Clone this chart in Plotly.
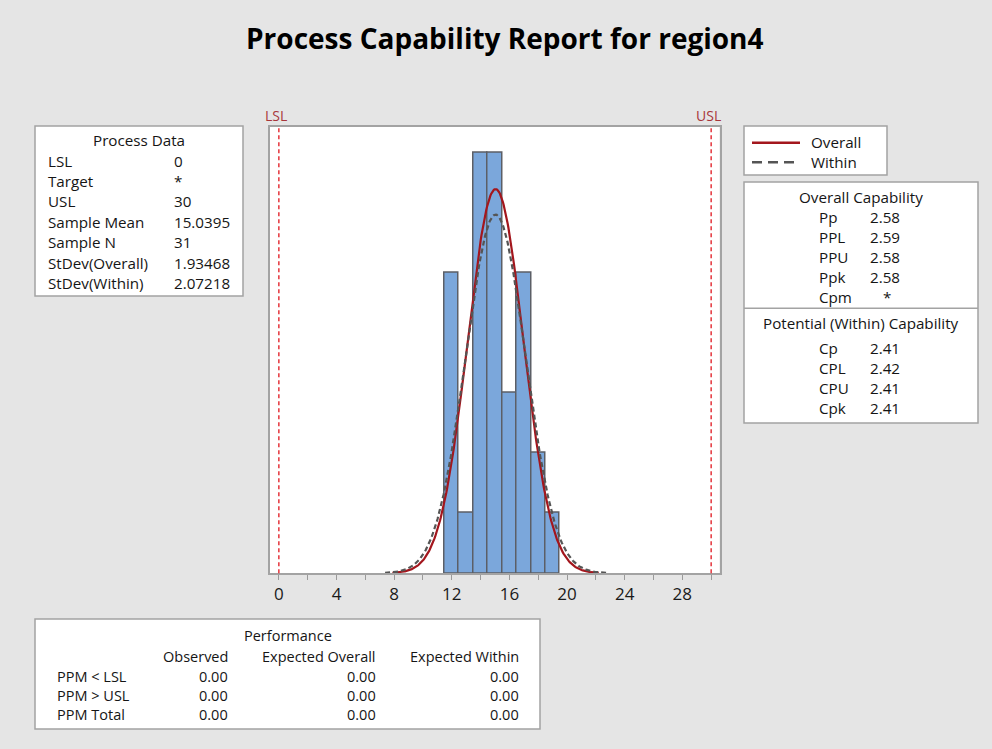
import numpy as np
import plotly.graph_objects as go

# ---- data ----
lsl = 0
usl = 30
sample_mean = 15.0395
sample_n = 31
sd_overall = 1.93468
sd_within = 2.07218
bin_width = 1.0

bin_centers = [12, 13, 14, 15, 16, 17, 18, 19]
bin_counts = [5, 1, 7, 7, 3, 5, 2, 1]

tick_values = list(range(0, 32, 2))
tick_labels = [str(v) if v % 4 == 0 and v <= 28 else "" for v in tick_values]

process_labels = ["LSL", "Target", "USL", "Sample Mean", "Sample N", "StDev(Overall)", "StDev(Within)"]
process_values = ["0", "*", "30", "15.0395", "31", "1.93468", "2.07218"]

overall_labels = ["Pp", "PPL", "PPU", "Ppk", "Cpm"]
overall_values = ["2.58", "2.59", "2.58", "2.58", "*"]

within_labels = ["Cp", "CPL", "CPU", "Cpk"]
within_values = ["2.41", "2.42", "2.41", "2.41"]

perf_columns = ["Observed", "Expected Overall", "Expected Within"]
perf_rows = ["PPM < LSL", "PPM > USL", "PPM Total"]
perf_values = [["0.00", "0.00", "0.00"],
               ["0.00", "0.00", "0.00"],
               ["0.00", "0.00", "0.00"]]

# ---- page geometry (pixels) ----
W, H = 992, 749
FONT = "Open Sans"
TXT = "#151515"
BORDER = "#a3a3a3"
BODY = 15.2
TABLE = 14.5


def px(x):
    return x / W


def py(y):
    return 1 - y / H


annotations = []
shapes = []


def text(x, y, s, anchor="left", size=BODY, color=TXT, bold=False):
    annotations.append(dict(
        x=px(x), y=py(y), xref="paper", yref="paper", text=("<b>%s</b>" % s) if bold else s,
        showarrow=False, xanchor=anchor, yanchor="middle",
        font=dict(family=FONT, size=size, color=color), borderpad=0))


def box(x0, y0, x1, y1):
    shapes.append(dict(type="rect", xref="paper", yref="paper",
                       x0=px(x0), x1=px(x1), y0=py(y1), y1=py(y0),
                       fillcolor="white", line=dict(color=BORDER, width=1.5), layer="below"))


def hline(x0, x1, y, color=BORDER, width=1.5, dash="solid"):
    shapes.append(dict(type="line", xref="paper", yref="paper",
                       x0=px(x0), x1=px(x1), y0=py(y), y1=py(y),
                       line=dict(color=color, width=width, dash=dash)))


# ---- fitted normal curves, scaled to counts ----
def normal_curve(sd):
    xs = np.linspace(sample_mean - 3.7 * sd, sample_mean + 3.7 * sd, 300)
    ys = sample_n * bin_width * np.exp(-0.5 * ((xs - sample_mean) / sd) ** 2) / (sd * np.sqrt(2 * np.pi))
    return xs, ys


fig = go.Figure()

fig.add_trace(go.Bar(
    x=bin_centers, y=bin_counts, width=bin_width,
    marker=dict(color="#7ba7db", line=dict(color="#5c5f66", width=1.5)),
    showlegend=False, hoverinfo="skip"))

xo, yo = normal_curve(sd_overall)
fig.add_trace(go.Scatter(x=xo, y=yo, mode="lines",
                         line=dict(color="#a3161d", width=2.2), showlegend=False, hoverinfo="skip"))
xw, yw = normal_curve(sd_within)
fig.add_trace(go.Scatter(x=xw, y=yw, mode="lines",
                         line=dict(color="#555555", width=2.2, dash="5px,3px"), showlegend=False, hoverinfo="skip"))

# spec limit lines
for v in (lsl, usl):
    shapes.append(dict(type="line", xref="x", yref="y domain", x0=v, x1=v, y0=0, y1=1,
                       line=dict(color="#e0141c", width=1.3, dash="4px,3px"), layer="above"))
for v, lab in ((lsl, "LSL"), (usl, "USL")):
    annotations.append(dict(x=v, y=py(115), xref="x", yref="paper", text=lab, showarrow=False,
                            xanchor="center", yanchor="middle", xshift=-3,
                            font=dict(family=FONT, size=14, color="#a8363a")))

# title
text(505, 38, "Process Capability Report for region4", anchor="center", size=28, color="#000000", bold=True)

# process data box
box(35, 126, 243, 296)
text(139, 139.5, "Process Data", anchor="center")
for i, (lab, val) in enumerate(zip(process_labels, process_values)):
    y = 160.5 + i * 20.4
    text(47, y, lab)
    text(173, y, val)

# legend box
box(744, 126, 887, 175)
hline(752, 800, 142.7, color="#a3161d", width=2.5)
text(810, 142, "Overall")
hline(752, 800, 162.3, color="#555555", width=2.5, dash="10px,6px")
text(810, 161.5, "Within")

# capability box
box(744, 182, 978, 423)
hline(744, 978, 308.3)
text(861, 196.7, "Overall Capability", anchor="center")
for i, (lab, val) in enumerate(zip(overall_labels, overall_values)):
    y = 216.7 + i * 20
    text(818, y, lab)
    if val == "*":
        text(887, y, val, anchor="center")
    else:
        text(869, y, val)
text(861, 322.7, "Potential (Within) Capability", anchor="center")
for i, (lab, val) in enumerate(zip(within_labels, within_values)):
    y = 348.3 + i * 20
    text(818, y, lab)
    text(869, y, val)

# performance box
box(35, 619, 540, 729)
text(287.5, 635, "Performance", anchor="center", size=TABLE)
col_right = [229, 377, 520]
for c, name in enumerate(perf_columns):
    text(col_right[c], 656, name, anchor="right", size=TABLE)
for r, name in enumerate(perf_rows):
    y = 676 + r * 19
    text(56, y, name, size=TABLE)
    for c in range(len(perf_columns)):
        text(col_right[c], y, perf_values[r][c], anchor="right", size=TABLE)

fig.update_layout(
    width=W, height=H,
    margin=dict(l=0, r=0, t=0, b=0, pad=0),
    paper_bgcolor="#e5e5e5",
    plot_bgcolor="white",
    bargap=0,
    shapes=shapes,
    annotations=annotations,
    xaxis=dict(domain=[px(269.5), px(719.5)], range=[-0.65, 30.58],
               tickvals=tick_values, ticktext=tick_labels,
               ticks="outside", ticklen=5, tickcolor="#9a9a9a", tickwidth=1,
               showline=True, linecolor=BORDER, linewidth=1.5, mirror=True,
               showgrid=False, zeroline=False,
               tickfont=dict(family=FONT, size=17, color="#1a1a1a")),
    yaxis=dict(domain=[py(573.3), py(126.7)], range=[0, 7.43],
               showticklabels=False, ticks="", showgrid=False, zeroline=False,
               showline=True, linecolor=BORDER, linewidth=1.5, mirror=True),
)

fig.write_html("out.html")
